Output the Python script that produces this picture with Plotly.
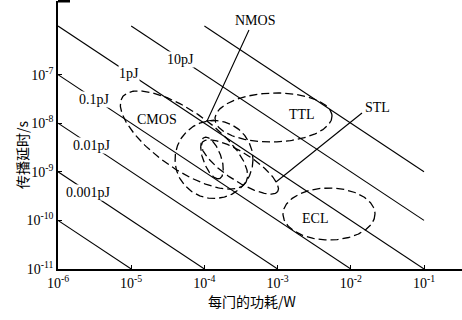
import numpy as np
import plotly.graph_objects as go

# ---------------- data ----------------
energies_J = [1e-16, 1e-15, 1e-14, 1e-13, 1e-12, 1e-11, 1e-10]
energy_labels = ["", "0.001pJ", "0.01pJ", "0.1pJ", "1pJ", "10pJ", ""]
energy_label_logP = [None, -5.577, -5.536, -5.495, -5.030, -4.320, None]

P_min, P_max = 1e-6, 1e-1        # power per gate (W)
t_min, t_max = 1e-11, 1e-6       # propagation delay (s)

x_tickvals = [1e-6, 1e-5, 1e-4, 1e-3, 1e-2, 1e-1]
x_ticktext = ["10<sup>-6</sup>", "10<sup>-5</sup>", "10<sup>-4</sup>",
              "10<sup>-3</sup>", "10<sup>-2</sup>", "10<sup>-1</sup>"]
y_tickvals = [1e-11, 1e-10, 1e-9, 1e-8, 1e-7]
y_ticktext = ["10<sup>-11</sup>", "10<sup>-10</sup>", "10<sup>-9</sup>",
              "10<sup>-8</sup>", "10<sup>-7</sup>"]

# logic families regions (centre in log10 units)
region_names = ["CMOS", "NMOS", "inner", "STL", "TTL", "ECL"]
region_logP = [-4.279, -3.869, -3.896, -3.514, -3.056, -2.298]
region_logt = [-8.346, -8.747, -8.716, -8.901, -7.883, -9.868]

# family labels
fam_labels = ["CMOS", "NMOS", "TTL", "STL", "ECL"]
fam_label_logP = [-4.648, -3.309, -2.667, -1.642, -2.489]
fam_label_logt = [-7.934, -5.897, -7.831, -7.667, -9.951]

# leader lines (log10 units)
nmos_leader_logP = [-3.391, -3.964, -3.869]
nmos_leader_logt = [-6.082, -7.955, -7.934]
stl_leader_logP = [-1.847, -3.022]
stl_leader_logt = [-7.790, -9.210]

# ---------------- geometry / style ----------------
W, H = 462, 320
ML, MB, MT, MR = 58, 51, 1, 0
pxdec_x, pxdec_y = 73.2, 48.6
plot_w, plot_h = W - ML - MR, H - MT - MB
x_range = [-6, -6 + plot_w / pxdec_x]
y_range = [-11, -11 + plot_h / pxdec_y]

# ellipse sizes in screen px: semi-major, semi-minor, angle (deg, clockwise)
region_a = [75, 39, 22, 45, 58.5, 46]
region_b = [29, 39, 9, 14, 24.5, 26]
region_ang = [35, 0, 70, 33, -1.5, 0]

SERIF = "Liberation Serif"
CJK = "Noto Sans CJK SC"

fig = go.Figure()

# constant-energy lines
for E in energies_J:
    p0 = max(P_min, E / t_max)
    p1 = min(P_max, E / t_min)
    fig.add_trace(go.Scatter(x=[p0, p1], y=[E / p0, E / p1], mode="lines",
                             line=dict(color="black", width=1.1),
                             hoverinfo="skip", showlegend=False))

# dashed regions
th = np.linspace(0, 2 * np.pi, 240)
for cx, cy, a, b, ang in zip(region_logP, region_logt, region_a, region_b, region_ang):
    phi = np.deg2rad(ang)
    dx = a * np.cos(th) * np.cos(phi) - b * np.sin(th) * np.sin(phi)
    dy = a * np.cos(th) * np.sin(phi) + b * np.sin(th) * np.cos(phi)
    lp = cx + dx / pxdec_x
    lt = cy - dy / pxdec_y
    fig.add_trace(go.Scatter(x=10 ** lp, y=10 ** lt, mode="lines",
                             line=dict(color="black", width=1.3, dash="8px,4px"),
                             hoverinfo="skip", showlegend=False))

# leader lines
for lp, lt in [(nmos_leader_logP, nmos_leader_logt), (stl_leader_logP, stl_leader_logt)]:
    fig.add_trace(go.Scatter(x=[10 ** v for v in lp], y=[10 ** v for v in lt], mode="lines",
                             line=dict(color="black", width=1.1),
                             hoverinfo="skip", showlegend=False))

annotations = []
for E, lab, lp in zip(energies_J, energy_labels, energy_label_logP):
    if not lab:
        continue
    annotations.append(dict(x=lp, y=np.log10(E) - lp, xref="x", yref="y", text=lab,
                            showarrow=False, bgcolor="white", borderpad=0,
                            font=dict(family=SERIF, size=14, color="black")))
for lab, lp, lt in zip(fam_labels, fam_label_logP, fam_label_logt):
    annotations.append(dict(x=lp, y=lt, xref="x", yref="y", text=lab, showarrow=False,
                            font=dict(family=SERIF, size=14, color="black")))

# axis titles
annotations.append(dict(x=(252 - ML) / plot_w, y=(H - MB - 313) / plot_h, xref="paper", yref="paper",
                        text="每门的功耗/W", showarrow=False,
                        font=dict(family=CJK, size=14, color="black")))
annotations.append(dict(x=(10 - ML) / plot_w, y=(H - MB - 155) / plot_h, xref="paper", yref="paper",
                        text="传播延时/s", showarrow=False, textangle=-90,
                        font=dict(family=CJK, size=14, color="black")))

fig.update_layout(
    width=W, height=H,
    margin=dict(l=ML, r=MR, t=MT, b=MB, pad=0),
    paper_bgcolor="white", plot_bgcolor="white",
    showlegend=False,
    annotations=annotations,
    shapes=[dict(type="line", xref="paper", yref="paper", x0=0, x1=12 / plot_w,
                 y0=1, y1=1, line=dict(color="black", width=3))],
    xaxis=dict(type="log", range=x_range, tickvals=x_tickvals, ticktext=x_ticktext,
               ticks="inside", ticklen=4, tickcolor="black", tickwidth=1,
               showline=True, linecolor="black", linewidth=1.5,
               showgrid=False, zeroline=False,
               tickfont=dict(family=SERIF, size=14, color="black")),
    yaxis=dict(type="log", range=y_range, tickvals=y_tickvals, ticktext=y_ticktext,
               ticks="inside", ticklen=4, tickcolor="black", tickwidth=1,
               showline=True, linecolor="black", linewidth=1.5,
               showgrid=False, zeroline=False,
               tickfont=dict(family=SERIF, size=14, color="black")),
)

fig.write_html("out.html")
